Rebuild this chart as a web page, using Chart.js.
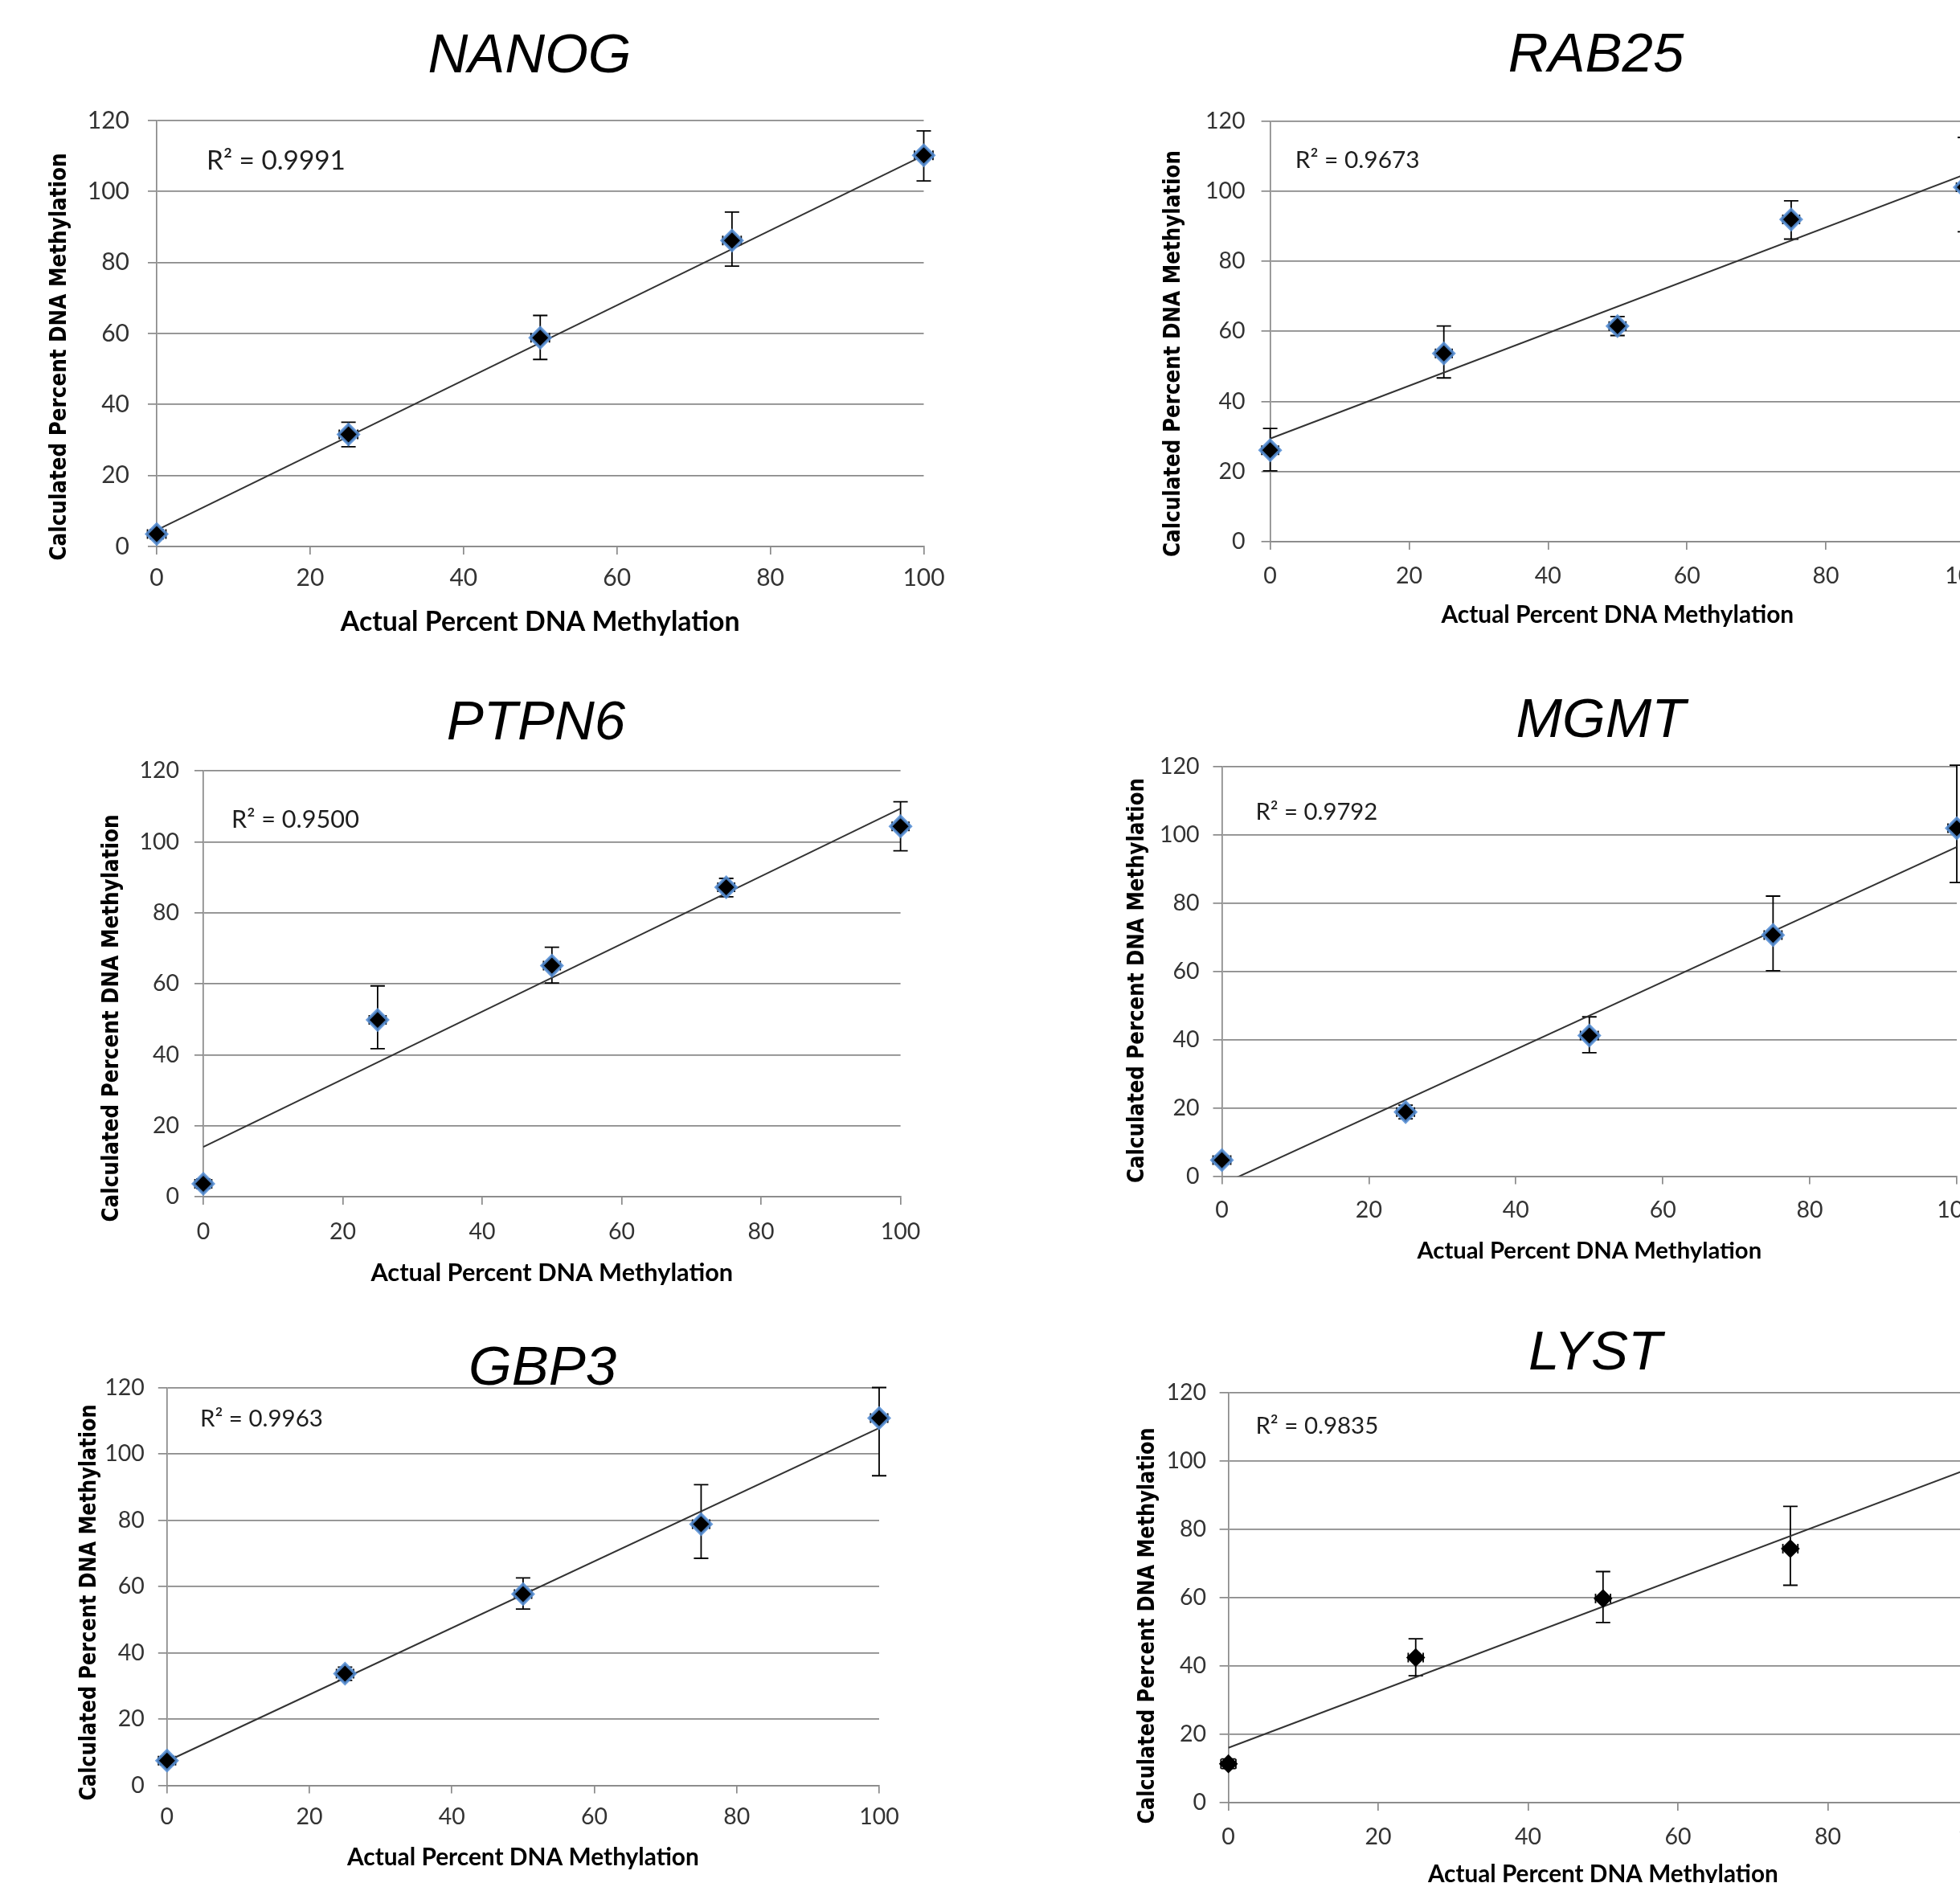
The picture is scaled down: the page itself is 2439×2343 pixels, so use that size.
<!DOCTYPE html>
<html>
<head>
<meta charset="utf-8">
<script src="https://cdn.jsdelivr.net/npm/chart.js@4.4.1/dist/chart.umd.min.js"></script>
<style>
html,body{margin:0;padding:0;background:#ffffff;width:2439px;height:2343px;overflow:hidden;}
canvas{position:absolute;}
</style>
</head>
<body>
<script>
// ---------------- DATA ----------------
const genes = ['NANOG', 'RAB25', 'PTPN6', 'MGMT', 'GBP3', 'LYST'];
const actualPercent = [0, 25, 50, 75, 100];
const xTickValues = [0, 20, 40, 60, 80, 100];
const yTickValues = [0, 20, 40, 60, 80, 100, 120];
const r2Labels = ['R² = 0.9991', 'R² = 0.9673', 'R² = 0.9500', 'R² = 0.9792', 'R² = 0.9963', 'R² = 0.9835'];
const xAxisTitle = 'Actual Percent DNA Methylation';
const yAxisTitle = 'Calculated Percent DNA Methylation';
const trendX = [0, 100];

const nanogMean = [3.5, 31.6, 58.8, 86.2, 110.2];
const nanogLow  = [2.2, 28.1, 52.7, 79.0, 103.0];
const nanogHigh = [4.8, 35.0, 65.1, 94.2, 117.1];
const nanogXErr = [1.2, 1.2, 1.2, 1.2, 1.2];
const nanogTrend = [4.6, 110.2];

const rab25Mean = [26.1, 53.7, 61.5, 91.9, 101.1];
const rab25Low  = [20.2, 46.7, 58.8, 86.3, 88.4];
const rab25High = [32.3, 61.5, 64.2, 97.2, 115.3];
const rab25XErr = [1.2, 1.2, 1.2, 1.2, 1.2];
const rab25Trend = [29.4, 104.7];

const ptpn6Mean = [3.6, 49.8, 65.1, 87.2, 104.4];
const ptpn6Low  = [2.3, 41.7, 60.2, 84.5, 97.5];
const ptpn6High = [4.9, 59.4, 70.3, 89.7, 111.3];
const ptpn6XErr = [1.2, 1.2, 1.2, 1.2, 1.2];
const ptpn6Trend = [14.0, 109.4];

const mgmtMean = [4.7, 18.8, 41.2, 70.7, 102.0];
const mgmtLow  = [3.5, 16.8, 36.2, 60.2, 86.1];
const mgmtHigh = [5.9, 20.8, 46.7, 82.1, 120.5];
const mgmtXErr = [1.2, 1.2, 1.2, 1.2, 1.2];
const mgmtTrend = [-2.4, 96.5];

const gbp3Mean = [7.5, 33.7, 57.7, 78.8, 110.8];
const gbp3Low  = [6.2, 31.7, 53.2, 68.5, 93.4];
const gbp3High = [8.8, 35.7, 62.6, 90.7, 120.0];
const gbp3XErr = [1.2, 1.2, 1.2, 1.2, 1.2];
const gbp3Trend = [7.3, 107.8];

const lystMean = [11.4, 42.5, 59.8, 74.4, null];
const lystLow  = [10.0, 37.2, 52.8, 63.7, null];
const lystHigh = [12.8, 48.0, 67.7, 86.8, null];
const lystXErr = [1.0, 1.0, 1.0, 1.0, 1.0];
const lystTrend = [16.1, 98.8];

const series = [
  {mean: nanogMean, low: nanogLow, high: nanogHigh, xErr: nanogXErr, trend: nanogTrend},
  {mean: rab25Mean, low: rab25Low, high: rab25High, xErr: rab25XErr, trend: rab25Trend},
  {mean: ptpn6Mean, low: ptpn6Low, high: ptpn6High, xErr: ptpn6XErr, trend: ptpn6Trend},
  {mean: mgmtMean,  low: mgmtLow,  high: mgmtHigh,  xErr: mgmtXErr,  trend: mgmtTrend},
  {mean: gbp3Mean,  low: gbp3Low,  high: gbp3High,  xErr: gbp3XErr,  trend: gbp3Trend},
  {mean: lystMean,  low: lystLow,  high: lystHigh,  xErr: lystXErr,  trend: lystTrend}
];

// ---------------- LAYOUT (page pixels) ----------------
const layouts = [
  {L:195,    R:1149.5, T:150,    B:680,    titleX:659,  titleBase:90,    yTitleX:75,   yTitleY:444,  yTitleW:505, r2X:257,    r2Y:200,    r2W:171, yGap:35,   xLab:39,   xTitleOff:94.5, xTitleW:495, tickFs:30,   halo:true},
  {L:1580.6, R:2445,   T:150.5,  B:674,    titleX:1986, titleBase:89,    yTitleX:1461, yTitleY:440,  yTitleW:504, r2X:1611.7, r2Y:199,    r2W:153, yGap:32,   xLab:43,   xTitleOff:91,   xTitleW:437, tickFs:28.5, halo:true},
  {L:253,    R:1120.6, T:959.3,  B:1488.9, titleX:667,  titleBase:919.5, yTitleX:140,  yTitleY:1267, yTitleW:505, r2X:288,    r2Y:1020.5, r2W:157, yGap:31,   xLab:44,   xTitleOff:95,   xTitleW:449, tickFs:28.5, halo:true},
  {L:1520.5, R:2435,   T:954.2,  B:1463.4, titleX:1992, titleBase:917,   yTitleX:1416, yTitleY:1220, yTitleW:502, r2X:1562.4, r2Y:1010.3, r2W:150, yGap:29,   xLab:42.6, xTitleOff:93.6, xTitleW:427, tickFs:28.5, halo:true},
  {L:207.8,  R:1094,   T:1726.5, B:2221.6, titleX:675,  titleBase:1723,  yTitleX:112,  yTitleY:1994, yTitleW:491, r2X:249,    r2Y:1765.6, r2W:151, yGap:29,   xLab:39.4, xTitleOff:89.4, xTitleW:436, tickFs:28.5, halo:true},
  {L:1528.6, R:2461,   T:1733.3, B:2243.1, titleX:1985, titleBase:1704,  yTitleX:1429, yTitleY:2023, yTitleW:491, r2X:1562.4, r2Y:1774.5, r2W:151, yGap:28.6, xLab:42.6, xTitleOff:89.7, xTitleW:434, tickFs:28.5, halo:false}
];

const gridColor = '#8a8a8a';
const yTitleFont = 'bold 28px "DejaVu Sans", Verdana, sans-serif';
const measureCtx = document.createElement('canvas').getContext('2d');
function fitSize(text, font, target) {
  measureCtx.font = font.replace('{s}', '100px');
  return 100 * target / measureCtx.measureText(text).width;
}
function squeeze(text, font, target) {
  measureCtx.font = font;
  return Math.min(1, target / measureCtx.measureText(text).width);
}

const panelDecor = {
  id: 'panelDecor',
  beforeDatasetsDraw(chart, args, o) {
    const ctx = chart.ctx, xs = chart.scales.x, ys = chart.scales.y;
    ctx.save();
    ctx.strokeStyle = '#000';
    ctx.lineWidth = 1.8;
    actualPercent.forEach((xv, k) => {
      const m = o.mean[k];
      if (m === null || m === undefined) return;
      const px = xs.getPixelForValue(xv), py = ys.getPixelForValue(m);
      const lo = ys.getPixelForValue(o.low[k]), hi = ys.getPixelForValue(o.high[k]);
      const xl = xs.getPixelForValue(xv - o.xErr[k]), xr = xs.getPixelForValue(xv + o.xErr[k]);
      ctx.beginPath();
      ctx.moveTo(px, lo); ctx.lineTo(px, hi);
      ctx.moveTo(px - 9, lo); ctx.lineTo(px + 9, lo);
      ctx.moveTo(px - 9, hi); ctx.lineTo(px + 9, hi);
      ctx.moveTo(xl, py); ctx.lineTo(xr, py);
      ctx.moveTo(xl, py - 6); ctx.lineTo(xl, py + 6);
      ctx.moveTo(xr, py - 6); ctx.lineTo(xr, py + 6);
      ctx.stroke();
    });
    ctx.restore();
  },
  afterDraw(chart, args, o) {
    const ctx = chart.ctx;
    ctx.save();
    ctx.fillStyle = '#000';
    ctx.font = 'italic 69px "Liberation Sans", Arial, sans-serif';
    ctx.textAlign = 'center';
    ctx.textBaseline = 'alphabetic';
    ctx.fillText(o.gene, o.titleX - o.ox, o.titleBase - o.oy);

    ctx.font = o.r2Fs + 'px Lato, "Open Sans", sans-serif';
    ctx.fillStyle = '#1e1e1e';
    ctx.textAlign = 'left';
    ctx.textBaseline = 'middle';
    ctx.fillText(o.r2, o.r2X - o.ox, o.r2Y - o.oy);

    ctx.translate(o.yTitleX - o.ox, o.yTitleY - o.oy);
    ctx.rotate(-Math.PI / 2);
    ctx.scale(o.ySqueeze, 1);
    ctx.font = yTitleFont;
    ctx.fillStyle = '#000';
    ctx.textAlign = 'center';
    ctx.textBaseline = 'middle';
    ctx.fillText(o.yTitle, 0, 0);
    ctx.restore();
  }
};

layouts.forEach((p, i) => {
  const s = series[i];
  const CL = Math.floor(p.L - 170);
  const CT = Math.floor(p.T - 160);
  const xFs = fitSize(xAxisTitle, 'bold {s} Lato', p.xTitleW + 2);
  const ySqueeze = squeeze(yAxisTitle, yTitleFont, p.yTitleW + 2);
  const r2Fs = fitSize(r2Labels[i], '{s} Lato', p.r2W + 2);
  const Xh = p.xTitleOff + 0.6 * xFs;
  const W = Math.ceil(p.R + 60 - CL);
  const H = Math.ceil(p.B + Xh + 8 - CT);
  const padRight = W - (p.R - CL);
  const padBottom = H - (p.B - CT) - Xh;
  const Yw = p.L - CL;

  const cv = document.createElement('canvas');
  cv.width = W; cv.height = H;
  cv.style.left = CL + 'px'; cv.style.top = CT + 'px';
  cv.style.width = W + 'px'; cv.style.height = H + 'px';
  document.body.appendChild(cv);

  const points = actualPercent.map((x, k) => ({x: x, y: s.mean[k]})).filter(d => d.y !== null);
  const trend = trendX.map((x, k) => ({x: x, y: s.trend[k]}));

  new Chart(cv, {
    type: 'scatter',
    data: {
      datasets: [
        {
          label: genes[i],
          data: points,
          pointStyle: 'rectRot',
          pointRadius: p.halo ? 12.5 : 11.8,
          pointHoverRadius: p.halo ? 12.5 : 11.8,
          backgroundColor: '#000000',
          borderColor: p.halo ? 'rgba(84,141,212,0.88)' : '#000000',
          borderWidth: p.halo ? 3.6 : 0,
          clip: false,
          order: 0
        },
        {
          type: 'line',
          label: 'Linear (' + genes[i] + ')',
          data: trend,
          borderColor: '#333333',
          borderWidth: 2,
          pointRadius: 0,
          fill: false,
          order: 1
        }
      ]
    },
    options: {
      responsive: false,
      animation: false,
      devicePixelRatio: 1,
      events: [],
      layout: {padding: {left: 0, top: p.T - CT, right: padRight, bottom: padBottom}},
      plugins: {
        legend: {display: false},
        tooltip: {enabled: false},
        panelDecor: {
          gene: genes[i], titleX: p.titleX, titleBase: p.titleBase,
          yTitle: yAxisTitle, yTitleX: p.yTitleX, yTitleY: p.yTitleY, ySqueeze: ySqueeze,
          r2: r2Labels[i], r2X: p.r2X, r2Y: p.r2Y, r2Fs: r2Fs,
          ox: CL, oy: CT,
          mean: s.mean, low: s.low, high: s.high, xErr: s.xErr
        }
      },
      scales: {
        x: {
          type: 'linear', min: 0, max: 100,
          afterBuildTicks: sc => { sc.ticks = xTickValues.map(v => ({value: v})); },
          afterFit: sc => { sc.height = Xh; },
          ticks: {font: {family: 'Lato', size: p.tickFs}, color: '#333333', padding: p.xLab - 10 - 0.6 * p.tickFs, maxRotation: 0, autoSkip: false},
          grid: {drawOnChartArea: false, drawTicks: true, tickLength: 10, color: gridColor, lineWidth: 1.7},
          border: {display: true, color: gridColor, width: 1.7},
          title: {display: true, text: xAxisTitle, font: {family: 'Lato', weight: 'bold', size: xFs}, color: '#000000', padding: 0}
        },
        y: {
          type: 'linear', min: 0, max: 120,
          afterBuildTicks: sc => { sc.ticks = yTickValues.map(v => ({value: v})); },
          afterFit: sc => { sc.width = Yw; },
          ticks: {font: {family: 'Lato', size: p.tickFs}, color: '#333333', padding: p.yGap - 11 - 1},
          grid: {color: gridColor, lineWidth: 1.7, tickLength: 11, drawTicks: true},
          border: {display: true, color: gridColor, width: 1.7}
        }
      }
    },
    plugins: [panelDecor]
  });
});
</script>
</body>
</html>
